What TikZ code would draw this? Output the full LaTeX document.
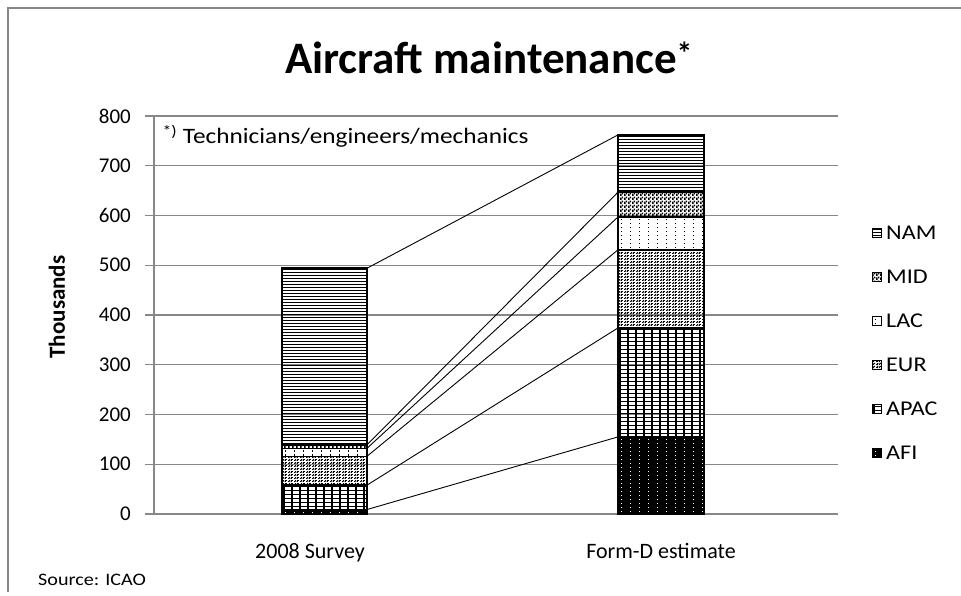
\documentclass[tikz,border=0pt]{standalone}
\usepackage{fontspec}
\setmainfont{Carlito}
\newfontfamily\widefont[FakeStretch=1.15]{Carlito}
\usetikzlibrary{calc,patterns}

% fills of the regions that stay as patterns
\pgfdeclarepatternformonly{midcheck}{\pgfqpoint{0pt}{0pt}}{\pgfqpoint{4pt}{4pt}}{\pgfqpoint{4pt}{4pt}}{%
	\pgfpathrectangle{\pgfqpoint{0pt}{0pt}}{\pgfqpoint{2pt}{2pt}}%
	\pgfpathrectangle{\pgfqpoint{2pt}{2pt}}{\pgfqpoint{2pt}{2pt}}%
	\pgfpathrectangle{\pgfqpoint{0pt}{2pt}}{\pgfqpoint{1pt}{1pt}}%
	\pgfusepath{fill}}
\pgfdeclarepatternformonly{eurnoise}{\pgfqpoint{0pt}{0pt}}{\pgfqpoint{6pt}{3pt}}{\pgfqpoint{6pt}{3pt}}{%
	\pgfpathrectangle{\pgfqpoint{0pt}{0pt}}{\pgfqpoint{2pt}{1pt}}%
	\pgfpathrectangle{\pgfqpoint{3pt}{0pt}}{\pgfqpoint{1.5pt}{1pt}}%
	\pgfpathrectangle{\pgfqpoint{1pt}{1.5pt}}{\pgfqpoint{1.5pt}{1pt}}%
	\pgfpathrectangle{\pgfqpoint{3.5pt}{1.5pt}}{\pgfqpoint{2pt}{1pt}}%
	\pgfusepath{fill}}

% the other fills are drawn line by line
\tikzset{
	r-nam/.style={path picture={
		\foreach \k in {0,...,60}
			\fill ([yshift=-\k*3pt-1pt]path picture bounding box.north west) rectangle ++(100pt,-1pt);
	}},
	r-mid/.style={pattern=midcheck},
	r-lac/.style={path picture={
		\foreach \i in {0,...,9}
			\foreach \j in {0,...,9}
				\fill ([xshift=\i*9pt+3pt, yshift=-\j*4pt-2pt]path picture bounding box.north west) rectangle ++(1pt,-1.2pt);
	}},
	r-eur/.style={pattern=eurnoise},
	r-apac/.style={path picture={
		\foreach \k in {0,...,11}
			\fill ([xshift=\k*8pt+1pt]path picture bounding box.north west) rectangle ++(2pt,-120pt);
		\foreach \k in {0,...,28}
			\fill ([yshift=-\k*4pt-1pt]path picture bounding box.north west) rectangle ++(100pt,-1pt);
	}},
	r-afi/.style={fill=black, path picture={
		\foreach \i in {0,...,9}
			\foreach \j in {0,...,20}
				\fill[white] ([xshift=\i*9pt+3pt, yshift=-\j*4pt-2pt]path picture bounding box.north west) rectangle ++(1pt,-1.2pt);
	}},
}

\begin{document}
\begin{tikzpicture}[x=1pt, y=-1pt,
		gridline/.style={line width=1.4pt, color=black!47},
		seg/.style={draw=black, line width=1.5pt},
		link/.style={line width=0.9pt},
		ticklabel/.style={anchor=east, inner sep=0pt, font=\fontsize{21}{21}\selectfont},
		legtext/.style={anchor=west, inner sep=0pt, font=\fontsize{21}{21}\widefont},
		cattext/.style={anchor=base, font=\fontsize{22}{22}\selectfont}]
		%%%%% START %%%%%
		\useasboundingbox (0,0) rectangle (961,596);
		
		\draw[line width=2pt, color=black!47] (8,592) -- (8,8) -- (961,8);
		
		\node[anchor=base, font=\fontsize{45}{45}\selectfont\bfseries] (title) at (489,74) {Aircraft maintenance\textsuperscript{*}};
		
		\begin{scope}[shift={(0,514)}, y=0.4975pt]
			\foreach \v in {0,100,...,800} {
				\draw[gridline] (145,\v) -- (838,\v);
				\node[ticklabel] (tk\v) at (131,\v) {\v};
			}
			\draw[gridline] (154,0) -- (154,800);
			
			% 2008 survey
			\foreach \lo/\hi/\pat in {0/9/afi, 9/58/apac, 58/116/eur, 116/132/lac, 132/139/mid, 139/494/nam} {
				\draw[seg, r-\pat] (282,\lo) rectangle (367,\hi);
				\coordinate (a-\pat) at (367,\hi);
			}
			% form-D estimate
			\foreach \lo/\hi/\pat in {0/155/afi, 155/374/apac, 374/531/eur, 531/597/lac, 597/647/mid, 647/762/nam} {
				\draw[seg, r-\pat] (618,\lo) rectangle (704,\hi);
				\coordinate (b-\pat) at (618,\hi);
			}
		\end{scope}
		
		\foreach \pat in {afi,apac,eur,lac,mid,nam}
			\draw[link] (a-\pat) -- (b-\pat);
		
		\node[anchor=base west, font=\fontsize{22}{22}\widefont] (note) at (159,144) {\textsuperscript{*)} Technicians/engineers/mechanics};
		\node[rotate=90, font=\fontsize{23}{23}\selectfont\bfseries] (ylabel) at (57,307) {Thousands};
		
		\node[cattext] (cat1) at (310,558) {2008 Survey};
		\node[cattext] (cat2) at (661,558) {Form-D estimate};
		
		\foreach \pat/\lab [count=\i] in {nam/NAM, mid/MID, lac/LAC, eur/EUR, apac/APAC, afi/AFI} {
			\draw[line width=0.9pt, r-\pat] (872,{233+44*(\i-1)-4.5}) rectangle ++(9,9);
			\node[legtext] (leg-\pat) at (886,{233+44*(\i-1)}) {\lab};
		}
		
		\node[anchor=base west, inner sep=0pt, font=\fontsize{17.5}{17.5}\widefont] (source) at (38,585) {Source: ICAO};
		%%%%% END %%%%%
\end{tikzpicture}
\end{document}
